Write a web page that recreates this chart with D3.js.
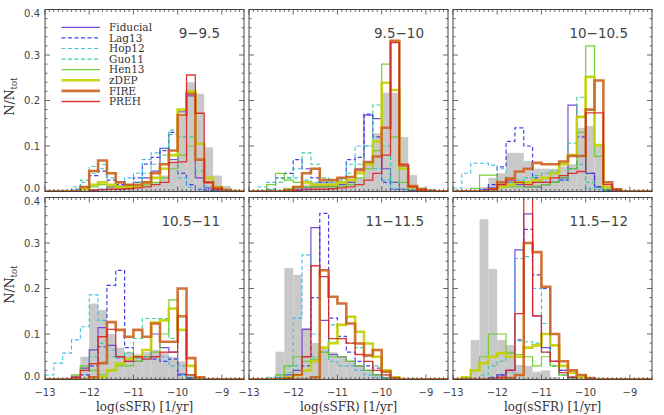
<!DOCTYPE html>
<html>
<head>
<meta charset="utf-8">
<script src="https://cdn.jsdelivr.net/npm/d3@7"></script>
<style>
  body { margin: 0; background: #fff; }
</style>
</head>
<body>
<div id="chart"></div>
<script>
// bin lower edges, log(sSFR), bin width 0.2 dex
const binLo = [-13.0, -12.8, -12.6, -12.4, -12.2, -12.0, -11.8, -11.6, -11.4, -11.2, -11.0, -10.8,
               -10.6, -10.4, -10.2, -10.0, -9.8, -9.6, -9.4, -9.2, -9.0, -8.8, -8.6];
const binWidth = 0.2;
const massBins = ["9\u22129.5", "9.5\u221210", "10\u221210.5", "10.5\u221211", "11\u221211.5", "11.5\u221212"];
const xTicks = [-13, -12, -11, -10, -9];
const yTicks = [0.0, 0.1, 0.2, 0.3, 0.4];

// observations (gray filled histogram), one row per mass bin
const observed = [
  [0,0,0,0,0,0.005,0.006,0.008,0.01,0.01,0.012,0.014,0.02,0.035,0.065,0.165,0.24,0.215,0.097,0.035,0.012,0.004,0],
  [0,0,0,0,0,0.01,0.015,0.02,0.02,0.02,0.02,0.025,0.03,0.065,0.128,0.217,0.217,0.12,0.036,0.01,0.003,0,0],
  [0,0,0,0.01,0.03,0.04,0.085,0.085,0.067,0.05,0.05,0.05,0.055,0.06,0.14,0.144,0.1,0.01,0.003,0,0,0,0],
  [0,0,0,0.01,0.05,0.167,0.153,0.1,0.07,0.06,0.055,0.06,0.065,0.06,0.05,0.04,0.01,0,0,0,0,0,0],
  [0,0,0,0.061,0.245,0.23,0.113,0.08,0.07,0.06,0.05,0.04,0.03,0.02,0.01,0.005,0,0,0,0,0,0,0],
  [0,0.005,0.087,0.352,0.243,0.087,0.076,0.032,0.03,0.017,0.02,0.005,0,0,0,0,0,0,0,0,0,0,0]
];

const fiducial = [
  [0,0,0,0,0,0.003,0.005,0.01,0.012,0.015,0.02,0.03,0.045,0.095,0.07,0.175,0.21,0.03,0.008,0.003,0,0,0],
  [0,0,0,0,0.003,0.005,0.008,0.01,0.01,0.012,0.015,0.02,0.05,0.168,0.16,0.05,0.02,0.005,0.002,0,0,0,0],
  [0,0,0,0.003,0.008,0.015,0.02,0.015,0.01,0.01,0.015,0.02,0.03,0.19,0.164,0.04,0.01,0.003,0,0,0,0,0],
  [0,0,0,0.005,0.025,0.065,0.114,0.075,0.05,0.04,0.04,0.05,0.1,0.07,0.06,0.012,0.003,0,0,0,0,0,0],
  [0,0,0,0.003,0.01,0.02,0.11,0.334,0.13,0.055,0.05,0.04,0.03,0.02,0.01,0.003,0,0,0,0,0,0,0],
  [0,0,0,0,0.003,0.01,0.02,0.285,0.364,0.14,0.07,0.04,0.02,0.005,0,0,0,0,0,0,0,0,0]
];
const lag13 = [
  [0,0,0,0.005,0.01,0.035,0.045,0.025,0.015,0.012,0.03,0.06,0.075,0.09,0.13,0.04,0.015,0.005,0.003,0,0,0,0],
  [0,0,0.005,0.03,0.04,0.07,0.05,0.03,0.02,0.025,0.03,0.07,0.075,0.17,0.12,0.02,0.005,0,0,0,0,0,0],
  [0,0,0,0.005,0.015,0.054,0.11,0.14,0.1,0.03,0.02,0.02,0.025,0.05,0.12,0.04,0.01,0.003,0,0,0,0,0],
  [0,0,0,0.005,0.01,0.03,0.072,0.207,0.24,0.07,0.05,0.05,0.045,0.04,0.045,0.01,0.003,0,0,0,0,0,0],
  [0,0,0,0,0.005,0.01,0.03,0.18,0.365,0.135,0.095,0.06,0.04,0.03,0.025,0.005,0,0,0,0,0,0,0],
  [0,0,0,0,0.005,0.01,0.02,0.087,0.33,0.23,0.2,0.04,0.02,0.005,0,0,0,0,0,0,0,0,0]
];
const hop12 = [
  [0,0,0,0.003,0.02,0.04,0.05,0.03,0.02,0.03,0.04,0.07,0.085,0.095,0.125,0.03,0.01,0.005,0,0,0,0,0],
  [0,0.01,0.02,0.03,0.03,0.03,0.025,0.02,0.02,0.02,0.025,0.06,0.1,0.1,0.05,0.025,0.005,0,0,0,0,0,0],
  [0.007,0.04,0.062,0.062,0.058,0.05,0.03,0.025,0.02,0.02,0.02,0.02,0.025,0.05,0.06,0.007,0.005,0,0,0,0,0,0],
  [0.01,0.036,0.058,0.087,0.116,0.186,0.13,0.065,0.047,0.047,0.047,0.047,0.05,0.05,0.03,0.01,0,0,0,0,0,0,0],
  [0,0,0.005,0.01,0.03,0.135,0.274,0.1,0.06,0.04,0.03,0.03,0.02,0.01,0.005,0,0,0,0,0,0,0,0],
  [0,0,0,0,0,0.005,0.015,0.266,0.27,0.2,0.123,0.03,0.01,0.003,0,0,0,0,0,0,0,0,0]
];
const guo11 = [
  [0,0,0,0.01,0.025,0.055,0.06,0.04,0.02,0.015,0.02,0.04,0.06,0.08,0.135,0.12,0.12,0.045,0.01,0.003,0,0,0],
  [0,0,0.005,0.02,0.03,0.05,0.085,0.06,0.03,0.02,0.02,0.04,0.06,0.1,0.19,0.1,0.02,0.005,0,0,0,0,0],
  [0,0,0,0,0.005,0.01,0.02,0.02,0.03,0.035,0.04,0.045,0.06,0.106,0.207,0.02,0.01,0.003,0,0,0,0,0],
  [0,0,0,0.005,0.02,0.05,0.08,0.05,0.05,0.06,0.09,0.134,0.134,0.134,0.09,0.03,0.005,0,0,0,0,0,0],
  [0,0,0,0.005,0.015,0.03,0.05,0.05,0.06,0.12,0.09,0.08,0.07,0.05,0.03,0.01,0,0,0,0,0,0,0],
  [0,0,0,0.01,0.03,0.04,0.06,0.085,0.083,0.08,0.06,0.03,0.01,0.003,0,0,0,0,0,0,0,0,0]
];
const hen13 = [
  [0,0,0,0,0.005,0.01,0.015,0.01,0.008,0.008,0.01,0.015,0.02,0.03,0.05,0.08,0.1,0.105,0.02,0.005,0,0,0],
  [0,0,0.015,0.04,0.025,0.02,0.01,0.01,0.01,0.01,0.012,0.015,0.03,0.05,0.09,0.28,0.12,0.02,0.005,0,0,0,0],
  [0,0,0.007,0.036,0.036,0.01,0.01,0.01,0.01,0.012,0.015,0.02,0.03,0.05,0.13,0.32,0.077,0.005,0,0,0,0,0],
  [0,0,0,0.01,0.03,0.02,0.01,0.02,0.03,0.03,0.04,0.05,0.06,0.1,0.175,0.137,0.01,0,0,0,0,0,0],
  [0,0,0,0.01,0.03,0.05,0.04,0.045,0.06,0.05,0.05,0.04,0.03,0.02,0.01,0.003,0,0,0,0,0,0,0],
  [0,0,0.02,0.05,0.1,0.1,0.058,0.055,0.05,0.03,0.05,0.03,0.01,0.003,0,0,0,0,0,0,0,0,0]
];
const zdep = [
  [0,0,0,0,0.005,0.015,0.02,0.015,0.01,0.01,0.012,0.02,0.03,0.05,0.08,0.18,0.22,0.105,0.03,0.01,0.003,0,0],
  [0,0,0,0,0.005,0.01,0.02,0.015,0.015,0.015,0.02,0.025,0.04,0.06,0.11,0.239,0.223,0.05,0.01,0.003,0,0,0],
  [0,0,0,0,0.005,0.01,0.015,0.02,0.02,0.025,0.03,0.04,0.06,0.08,0.164,0.252,0.102,0.01,0.003,0,0,0,0],
  [0,0,0,0,0,0,0.005,0.02,0.035,0.045,0.05,0.065,0.125,0.13,0.156,0.109,0.03,0.003,0,0,0,0,0],
  [0,0,0,0,0.005,0.01,0.02,0.04,0.07,0.08,0.12,0.138,0.105,0.079,0.05,0.02,0.005,0,0,0,0,0,0],
  [0,0.005,0.02,0.036,0.05,0.058,0.05,0.05,0.07,0.075,0.1,0.075,0.03,0.015,0.005,0,0,0,0,0,0,0,0]
];
const fire = [
  [0,0,0,0,0.01,0.045,0.068,0.04,0.02,0.015,0.015,0.02,0.04,0.06,0.09,0.168,0.215,0.07,0.02,0.008,0.003,0,0],
  [0,0,0,0,0.003,0.01,0.04,0.05,0.025,0.025,0.03,0.032,0.047,0.065,0.077,0.14,0.331,0.057,0.012,0.005,0.002,0,0],
  [0,0,0,0,0.005,0.02,0.029,0.044,0.05,0.063,0.06,0.06,0.066,0.078,0.078,0.18,0.244,0.02,0.005,0,0,0,0],
  [0,0,0,0,0,0.005,0.036,0.126,0.109,0.094,0.109,0.094,0.123,0.083,0.083,0.2,0.047,0.005,0,0,0,0,0],
  [0,0,0,0,0,0,0,0.005,0.24,0.182,0.167,0.123,0.079,0.053,0.065,0.017,0.003,0,0,0,0,0,0],
  [0,0,0,0,0,0,0.003,0.01,0.3,0.28,0.204,0.1,0.04,0.02,0.01,0.003,0,0,0,0,0,0,0]
];
const preh = [
  [0,0,0,0,0,0.003,0.004,0.005,0.005,0.006,0.008,0.01,0.015,0.02,0.064,0.065,0.256,0.172,0.02,0.005,0,0,0],
  [0,0,0,0,0,0.002,0.004,0.005,0.005,0.006,0.008,0.01,0.015,0.025,0.04,0.08,0.327,0.06,0.01,0.003,0,0,0],
  [0,0,0,0,0.005,0.015,0.025,0.02,0.015,0.02,0.02,0.03,0.035,0.04,0.044,0.173,0.173,0.015,0.003,0,0,0,0],
  [0,0,0,0.005,0.02,0.035,0.094,0.11,0.05,0.04,0.05,0.045,0.05,0.06,0.06,0.14,0.01,0,0,0,0,0,0],
  [0,0,0,0,0.003,0.01,0.05,0.25,0.226,0.09,0.09,0.08,0.055,0.04,0.02,0.01,0,0,0,0,0,0,0],
  [0,0,0,0,0,0.005,0.02,0.145,0.45,0.14,0.06,0.04,0.015,0.005,0,0,0,0,0,0,0,0,0]
];

const models = [
  { name: "Fiducial", data: fiducial, color: "#6a3bd2", width: 1.2, dash: null },
  { name: "Lag13",    data: lag13,    color: "#3030e0", width: 1.2, dash: "4,2.5" },
  { name: "Hop12",    data: hop12,    color: "#30b8e0", width: 1.1, dash: "4,2.5" },
  { name: "Guo11",    data: guo11,    color: "#28c890", width: 1.1, dash: "4,2.5" },
  { name: "Hen13",    data: hen13,    color: "#66cc22", width: 1.2, dash: null },
  { name: "zDEP",     data: zdep,     color: "#c2d000", width: 2.6, dash: null },
  { name: "FIRE",     data: fire,     color: "#cc6420", width: 2.6, dash: null },
  { name: "PREH",     data: preh,     color: "#dd2020", width: 1.3, dash: null }
];

const width = 664, height = 415;
const panelX = [45, 249, 453];
const panelY = [9.5, 197.5];
const panelW = 199, panelH = 182;
const serif = "'DejaVu Serif', 'Liberation Serif', serif";

const svg = d3.select("#chart").append("svg")
  .attr("width", width)
  .attr("height", height)
  .style("font-family", "'DejaVu Sans', Arial, sans-serif");

const x = d3.scaleLinear().domain([-13, -8.5]).range([0, panelW]);
const y = d3.scaleLinear().domain([0, 0.4]).range([panelH, 0]);

const stepLine = d3.line()
  .x(d => x(d[0]))
  .y(d => y(d[1]));

function stepPoints(values) {
  const pts = [];
  values.forEach((v, i) => {
    pts.push([binLo[i], v]);
    pts.push([binLo[i] + binWidth, v]);
  });
  return pts;
}

massBins.forEach((label, p) => {
  const col = p % 3, row = Math.floor(p / 3);
  const g = svg.append("g")
    .attr("transform", `translate(${panelX[col]},${panelY[row]})`);

  const clipId = `clip${p}`;
  g.append("clipPath").attr("id", clipId)
    .append("rect").attr("width", panelW).attr("height", panelH);

  const plot = g.append("g").attr("clip-path", `url(#${clipId})`);

  // observed distribution
  plot.selectAll("rect.obs")
    .data(observed[p].map((v, i) => ({ lo: binLo[i], v })).filter(d => d.v > 0))
    .join("rect")
    .attr("class", "obs")
    .attr("x", d => x(d.lo))
    .attr("width", d => x(d.lo + binWidth) - x(d.lo))
    .attr("y", d => y(d.v))
    .attr("height", d => y(0) - y(d.v))
    .attr("fill", "#c9c9c9");

  // model histograms
  models.forEach(m => {
    plot.append("path")
      .attr("d", stepLine(stepPoints(m.data[p])))
      .attr("fill", "none")
      .attr("stroke", m.color)
      .attr("stroke-width", m.width)
      .attr("stroke-opacity", 0.9)
      .attr("stroke-dasharray", m.dash)
      .attr("stroke-linejoin", "miter");
  });

  // frame
  g.append("rect")
    .attr("width", panelW).attr("height", panelH)
    .attr("fill", "none").attr("stroke", "#444").attr("stroke-width", 1);

  // ticks on all sides, pointing inward
  const tickG = g.append("g").attr("stroke", "#444").attr("stroke-width", 0.8);
  const xMinor = d3.range(-130, -84).map(k => k / 10);
  xMinor.forEach(v => {
    const len = Number.isInteger(v) ? 5 : 2.5;
    tickG.append("line").attr("x1", x(v)).attr("x2", x(v)).attr("y1", panelH).attr("y2", panelH - len);
    tickG.append("line").attr("x1", x(v)).attr("x2", x(v)).attr("y1", 0).attr("y2", len);
  });
  const yMinor = d3.range(0, 21).map(k => k / 50);
  yMinor.forEach((v, k) => {
    const len = k % 5 === 0 ? 5 : 2.5;
    tickG.append("line").attr("y1", y(v)).attr("y2", y(v)).attr("x1", 0).attr("x2", len);
    tickG.append("line").attr("y1", y(v)).attr("y2", y(v)).attr("x1", panelW).attr("x2", panelW - len);
  });

  // tick labels
  if (col === 0) {
    g.selectAll("text.ylab")
      .data(yTicks)
      .join("text")
      .attr("class", "ylab")
      .attr("x", -5)
      .attr("y", d => y(d) + (d === 0 ? -3 : d === 0.4 ? 4 : 0))
      .attr("dy", "0.35em")
      .attr("text-anchor", "end")
      .attr("font-size", 10)
      .attr("fill", "#444")
      .text(d => d.toFixed(1));

    g.append("text")
      .attr("transform", `translate(-31,${panelH / 2 - 4}) rotate(-90)`)
      .attr("text-anchor", "middle")
      .attr("font-family", serif)
      .attr("font-size", 12.5)
      .attr("fill", "#333")
      .text("N/N")
      .append("tspan")
      .attr("font-size", 8.5)
      .attr("dy", 3)
      .text("tot");
  }
  if (row === 1) {
    g.selectAll("text.xlab")
      .data(xTicks)
      .join("text")
      .attr("class", "xlab")
      .attr("x", d => x(d))
      .attr("y", panelH + 16)
      .attr("text-anchor", "middle")
      .attr("font-size", 10)
      .attr("fill", "#444")
      .text(d => d < 0 ? "\u2212" + Math.abs(d) : d);

    g.append("text")
      .attr("x", panelW / 2)
      .attr("y", panelH + 31)
      .attr("text-anchor", "middle")
      .attr("font-family", serif)
      .attr("font-size", 12)
      .attr("fill", "#333")
      .text("log(sSFR) [1/yr]");
  }

  // mass bin label
  g.append("text")
    .attr("x", panelW - 24)
    .attr("y", 28.5)
    .attr("text-anchor", "end")
    .attr("font-size", 13.5)
    .attr("fill", "#444")
    .text(label);

  // legend in first panel
  if (p === 0) {
    const leg = g.append("g").attr("transform", "translate(16.5,17.8)");
    models.forEach((m, k) => {
      const ly = k * 10.6;
      leg.append("line")
        .attr("x1", 0).attr("x2", 38.5)
        .attr("y1", ly).attr("y2", ly)
        .attr("stroke", m.color)
        .attr("stroke-width", m.width)
        .attr("stroke-opacity", 0.9)
        .attr("stroke-dasharray", m.dash);
      leg.append("text")
        .attr("x", 47.5)
        .attr("y", ly)
        .attr("dy", "0.35em")
        .attr("font-family", serif)
        .attr("font-size", 10.5)
        .attr("fill", "#333")
        .text(m.name);
    });
  }
});
</script>
</body>
</html>
